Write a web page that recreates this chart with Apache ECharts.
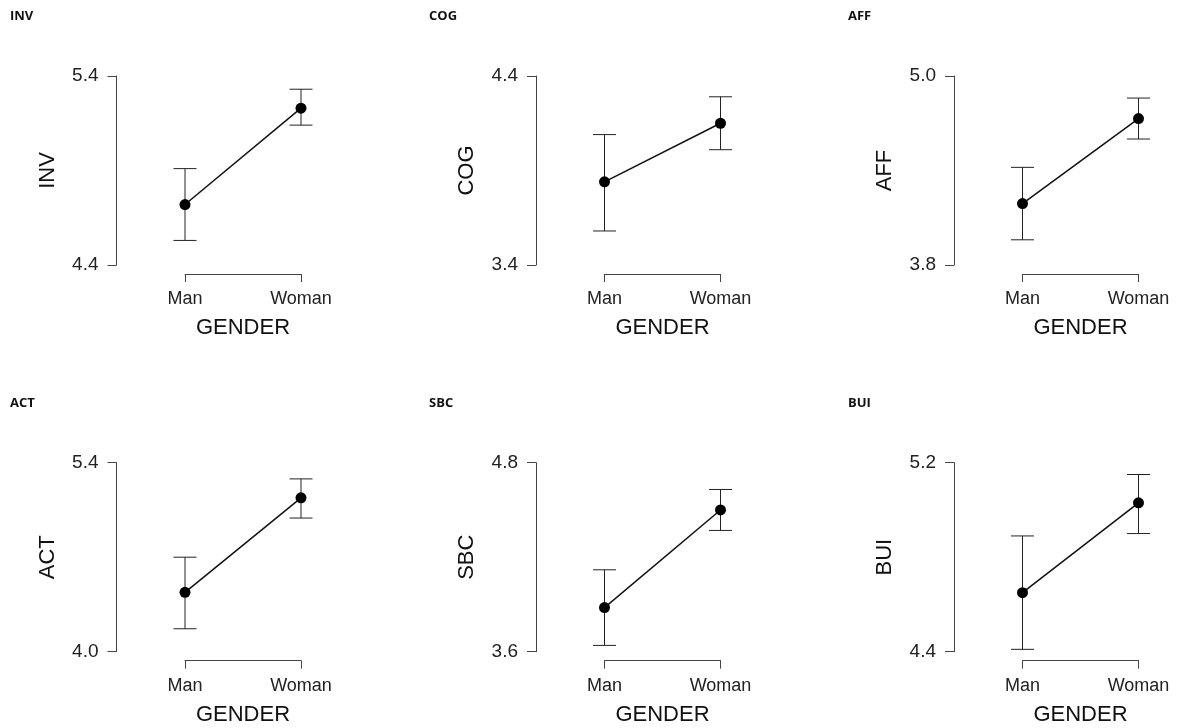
<!DOCTYPE html>
<html>
<head>
  <meta charset="utf-8">
  <title>Means by gender</title>
  <script type="text/javascript" src="https://cdn.jsdelivr.net/npm/echarts@6.0.0/dist/echarts.min.js"></script>
  <style>
    html, body { margin: 0; padding: 0; background: #fff; }
    #div1 { width: 1177px; height: 728px; }
  </style>
</head>
<body>
<div id="div1"></div>
<script type="text/javascript">
// data
var categories = ['Man', 'Woman'];
var panelNames = ['INV', 'COG', 'AFF', 'ACT', 'SBC', 'BUI'];

var invMean = [4.72, 5.23], invLow = [4.53, 5.14], invHigh = [4.91, 5.33], invTicks = [4.4, 5.4];
var cogMean = [3.84, 4.15], cogLow = [3.58, 4.01], cogHigh = [4.09, 4.29], cogTicks = [3.4, 4.4];
var affMean = [4.19, 4.73], affLow = [3.96, 4.60], affHigh = [4.42, 4.86], affTicks = [3.8, 5.0];
var actMean = [4.44, 5.14], actLow = [4.17, 4.99], actHigh = [4.70, 5.28], actTicks = [4.0, 5.4];
var sbcMean = [3.88, 4.50], sbcLow = [3.64, 4.37], sbcHigh = [4.12, 4.63], sbcTicks = [3.6, 4.8];
var buiMean = [4.65, 5.03], buiLow = [4.41, 4.90], buiHigh = [4.89, 5.15], buiTicks = [4.4, 5.2];

var means = [invMean, cogMean, affMean, actMean, sbcMean, buiMean];
var lows = [invLow, cogLow, affLow, actLow, sbcLow, buiLow];
var highs = [invHigh, cogHigh, affHigh, actHigh, sbcHigh, buiHigh];
var ticks = [invTicks, cogTicks, affTicks, actTicks, sbcTicks, buiTicks];

// layout
var colLeft = [185, 604.5, 1022.5];
var titleLeft = [10, 429, 848];
var rowTop = [76, 462.7];
var titleTop = [10, 397];
var font = 'Liberation Sans, Arial, sans-serif';
var axisColor = '#444';

var myChart = echarts.init(document.getElementById('div1'));

var titles = [], grids = [], xAxes = [], yAxes = [], series = [];

for (var i = 0; i < panelNames.length; i++) {
    var c = i % 3, r = Math.floor(i / 3);
    titles.push({
        text: panelNames[i],
        left: titleLeft[c],
        top: titleTop[r],
        padding: 0,
        textStyle: { fontSize: 13, fontWeight: 'bold', color: '#111', fontFamily: 'Open Sans, sans-serif' }
    });
    grids.push({ left: colLeft[c], top: rowTop[r], width: 116, height: 189 });
    xAxes.push({
        gridIndex: i,
        type: 'category',
        data: categories,
        boundaryGap: false,
        position: 'bottom',
        offset: 9,
        name: 'GENDER',
        nameLocation: 'middle',
        nameGap: 43,
        nameTextStyle: { fontSize: 22, color: '#111', fontFamily: font },
        axisLine: { show: true, lineStyle: { color: axisColor, width: 1 } },
        axisTick: { show: true, length: 8, inside: false, alignWithLabel: true, lineStyle: { color: axisColor } },
        axisLabel: { fontSize: 18, color: '#222', fontFamily: font, margin: 16, interval: 0 },
        splitLine: { show: false }
    });
    var t = ticks[i];
    yAxes.push({
        gridIndex: i,
        type: 'value',
        min: t[0],
        max: t[1],
        offset: 68.5,
        name: panelNames[i],
        nameLocation: 'middle',
        nameGap: 58,
        nameTextStyle: { fontSize: 22, color: '#111', fontFamily: font },
        axisLine: { show: true, lineStyle: { color: axisColor, width: 1 } },
        axisTick: { show: true, length: 9, customValues: t, lineStyle: { color: axisColor } },
        axisLabel: {
            fontSize: 19, color: '#222', fontFamily: font, margin: 18,
            customValues: t,
            formatter: function (v) { return v.toFixed(1); }
        },
        splitLine: { show: false }
    });
    var bars = [];
    for (var k = 0; k < categories.length; k++) {
        bars.push([k, lows[i][k], highs[i][k]]);
    }
    series.push({
        type: 'custom',
        xAxisIndex: i,
        yAxisIndex: i,
        data: bars,
        silent: true,
        renderItem: function (params, api) {
            var x = api.value(0);
            var lo = api.coord([x, api.value(1)]);
            var hi = api.coord([x, api.value(2)]);
            var w = 11.5;
            var st = { stroke: '#222', lineWidth: 1 };
            return {
                type: 'group',
                children: [
                    { type: 'line', shape: { x1: lo[0], y1: lo[1], x2: hi[0], y2: hi[1] }, style: st },
                    { type: 'line', shape: { x1: hi[0] - w, y1: hi[1], x2: hi[0] + w, y2: hi[1] }, style: st },
                    { type: 'line', shape: { x1: lo[0] - w, y1: lo[1], x2: lo[0] + w, y2: lo[1] }, style: st }
                ]
            };
        }
    });
    series.push({
        type: 'line',
        xAxisIndex: i,
        yAxisIndex: i,
        data: means[i],
        symbol: 'circle',
        symbolSize: 11,
        silent: true,
        z: 3,
        lineStyle: { color: '#111', width: 1.5 },
        itemStyle: { color: '#000' }
    });
}

var option = {
    animation: false,
    backgroundColor: '#fff',
    title: titles,
    grid: grids,
    xAxis: xAxes,
    yAxis: yAxes,
    series: series
};
myChart.setOption(option);
</script>
</body>
</html>
